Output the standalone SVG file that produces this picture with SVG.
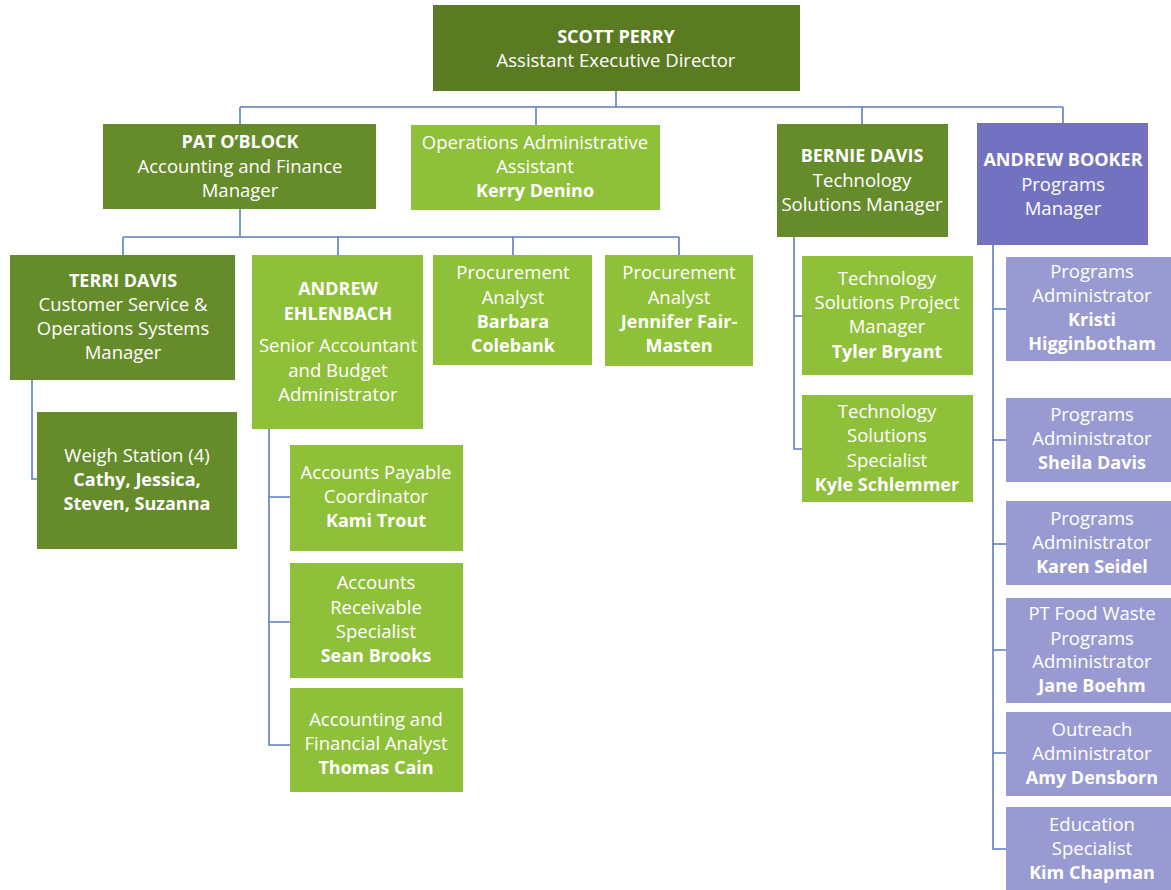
<svg xmlns="http://www.w3.org/2000/svg" width="1171" height="890" viewBox="0 0 1171 890">
<style>
.top{fill:#5b7b22}
.dk{fill:#668b2a}
.lt{fill:#8fc03a}
.pm{fill:#7272c0}
.pl{fill:#9a9ad2}
text{font-family:"Open Sans","Noto Sans",sans-serif;font-size:18.5px;fill:#ffffff;text-anchor:middle}
.b{font-weight:700;font-size:18px}
.conn path{fill:none;stroke:#5a7ec0;stroke-width:1.6}
</style>
<rect width="1171" height="890" fill="#ffffff"/>
<g class="conn" id="connectors">
<path d="M616 91V107M240 107H1063M240 107V124M536 107V125M862 107V124M1063 107V123"/>
<path d="M240 209V237M123 237H679M123 237V255M338 237V255M513 237V256M679 237V255"/>
<path d="M32 380V479H37"/>
<path d="M269 429V745H290M269 497H290M269 622H290"/>
<path d="M794 237V449H802M794 316H802"/>
<path d="M993 245V849H1006M993 309H1006M993 440H1006M993 544H1006M993 650H1006M993 753H1006"/>
</g>
<g id="scott"><rect class="top" x="433" y="5" width="367" height="86"/>
<text x="616" y="43" class="b">SCOTT PERRY</text><text x="616" y="67">Assistant Executive Director</text></g>
<g id="pat"><rect class="dk" x="103" y="124" width="273" height="85"/>
<text x="240" y="148" class="b">PAT O’BLOCK</text><text x="240" y="173">Accounting and Finance</text><text x="240" y="197">Manager</text></g>
<g id="kerry"><rect class="lt" x="411" y="125" width="249" height="85"/>
<text x="535" y="149">Operations Administrative</text><text x="535" y="173">Assistant</text><text x="535" y="197" class="b">Kerry Denino</text></g>
<g id="bernie"><rect class="dk" x="777" y="124" width="171" height="113"/>
<text x="862" y="162" class="b">BERNIE DAVIS</text><text x="862" y="187">Technology</text><text x="862" y="211">Solutions Manager</text></g>
<g id="booker"><rect class="pm" x="977" y="123" width="171" height="122"/>
<text x="1063" y="166" class="b">ANDREW BOOKER</text><text x="1063" y="191">Programs</text><text x="1063" y="215">Manager</text></g>
<g id="terri"><rect class="dk" x="10" y="255" width="225" height="125"/>
<text x="123" y="287" class="b">TERRI DAVIS</text><text x="123" y="311">Customer Service &amp;</text><text x="123" y="335">Operations Systems</text><text x="123" y="359">Manager</text></g>
<g id="weigh"><rect class="dk" x="37" y="412" width="200" height="137"/>
<text x="137" y="462">Weigh Station (4)</text><text x="137" y="486" class="b">Cathy, Jessica,</text><text x="137" y="510" class="b">Steven, Suzanna</text></g>
<g id="ehlenbach"><rect class="lt" x="252" y="255" width="171" height="174"/>
<text x="338" y="295" class="b">ANDREW</text><text x="338" y="320" class="b">EHLENBACH</text><text x="338" y="352">Senior Accountant</text><text x="338" y="377">and Budget</text><text x="338" y="401">Administrator</text></g>
<g id="barbara"><rect class="lt" x="433" y="255" width="159" height="110"/>
<text x="513" y="279">Procurement</text><text x="513" y="304">Analyst</text><text x="513" y="328" class="b">Barbara</text><text x="513" y="352" class="b">Colebank</text></g>
<g id="jennifer"><rect class="lt" x="605" y="255" width="148" height="111"/>
<text x="679" y="279">Procurement</text><text x="679" y="304">Analyst</text><text x="679" y="328" class="b">Jennifer Fair-</text><text x="679" y="352" class="b">Masten</text></g>
<g id="kami"><rect class="lt" x="290" y="445" width="173" height="106"/>
<text x="376" y="479">Accounts Payable</text><text x="376" y="503">Coordinator</text><text x="376" y="527" class="b">Kami Trout</text></g>
<g id="sean"><rect class="lt" x="290" y="563" width="173" height="115"/>
<text x="376" y="589">Accounts</text><text x="376" y="614">Receivable</text><text x="376" y="638">Specialist</text><text x="376" y="662" class="b">Sean Brooks</text></g>
<g id="thomas"><rect class="lt" x="290" y="688" width="173" height="104"/>
<text x="376" y="726">Accounting and</text><text x="376" y="750">Financial Analyst</text><text x="376" y="774" class="b">Thomas Cain</text></g>
<g id="tyler"><rect class="lt" x="802" y="256" width="171" height="119"/>
<text x="887" y="285">Technology</text><text x="887" y="309">Solutions Project</text><text x="887" y="333">Manager</text><text x="887" y="358" class="b">Tyler Bryant</text></g>
<g id="kyle"><rect class="lt" x="802" y="395" width="171" height="107"/>
<text x="887" y="418">Technology</text><text x="887" y="442">Solutions</text><text x="887" y="467">Specialist</text><text x="887" y="491" class="b">Kyle Schlemmer</text></g>
<g id="kristi"><rect class="pl" x="1006" y="257" width="165" height="104"/>
<text x="1092" y="278">Programs</text><text x="1092" y="302">Administrator</text><text x="1092" y="326" class="b">Kristi</text><text x="1092" y="350" class="b">Higginbotham</text></g>
<g id="sheila"><rect class="pl" x="1006" y="398" width="165" height="84"/>
<text x="1092" y="421">Programs</text><text x="1092" y="445">Administrator</text><text x="1092" y="469" class="b">Sheila Davis</text></g>
<g id="karen"><rect class="pl" x="1006" y="501" width="165" height="84"/>
<text x="1092" y="525">Programs</text><text x="1092" y="549">Administrator</text><text x="1092" y="573" class="b">Karen Seidel</text></g>
<g id="jane"><rect class="pl" x="1006" y="598" width="165" height="105"/>
<text x="1092" y="620">PT Food Waste</text><text x="1092" y="645">Programs</text><text x="1092" y="668">Administrator</text><text x="1092" y="692" class="b">Jane Boehm</text></g>
<g id="amy"><rect class="pl" x="1006" y="712" width="165" height="84"/>
<text x="1092" y="736">Outreach</text><text x="1092" y="760">Administrator</text><text x="1092" y="784" class="b">Amy Densborn</text></g>
<g id="kim"><rect class="pl" x="1006" y="807" width="165" height="83"/>
<text x="1092" y="831">Education</text><text x="1092" y="855">Specialist</text><text x="1092" y="879" class="b">Kim Chapman</text></g>
</svg>
